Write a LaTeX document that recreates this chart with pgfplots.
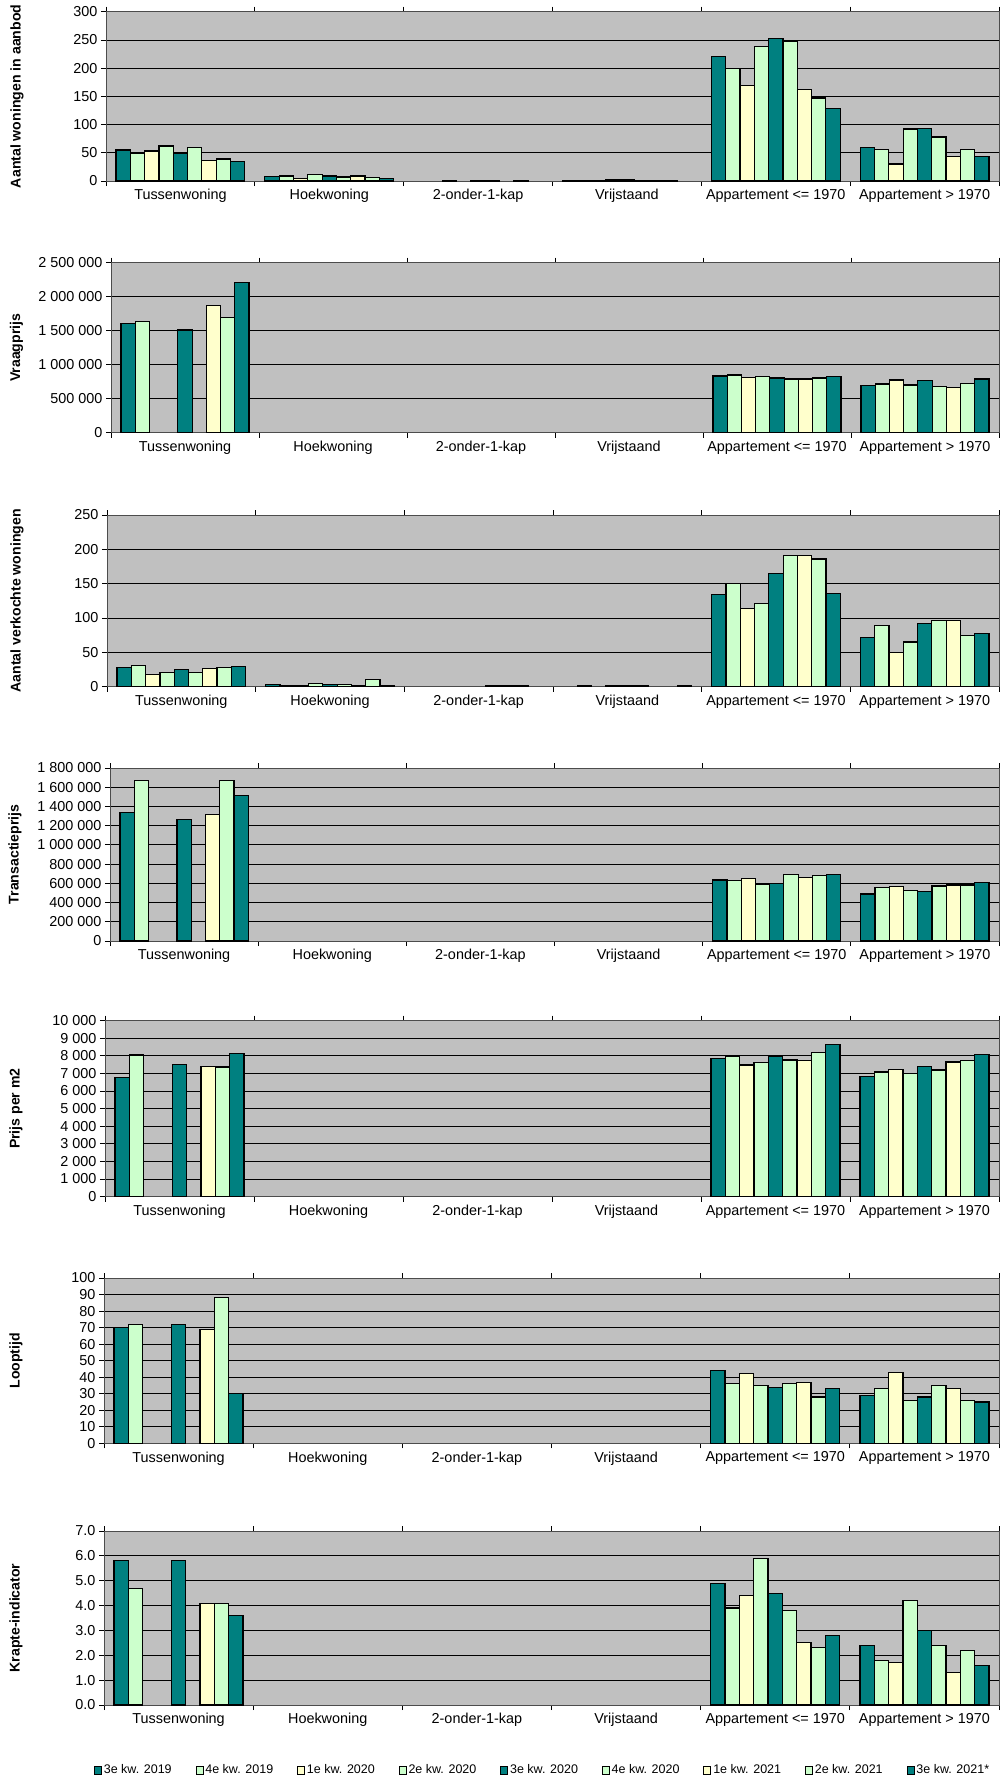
\documentclass[border=0pt]{standalone}
\usepackage{fontspec}
\setmainfont{Liberation Sans}
\usepackage{pgfplots}
\usepackage{pgfplotstable}
\pgfplotsset{compat=1.18}

\definecolor{kwteal}{HTML}{008080}
\definecolor{kwgreen}{HTML}{CCFFCC}
\definecolor{kwyellow}{HTML}{FFFFCC}
\definecolor{plotgray}{HTML}{C0C0C0}

% x = categorie (0 Tussenwoning ... 5 Appartement > 1970), s1..s9 = kwartalen
\pgfplotstableread{
x s1 s2 s3 s4 s5 s6 s7 s8 s9
0 55 49 53 62 49 59 36 39 35
1 8 9 5 11 9 7 9 6 5
2 nan nan 1 nan 1 1 nan 1 nan
3 1 1 1 2 2 1 1 1 nan
4 220 200 169 239 252 247 162 147 128
5 59 56 30 92 93 78 43 56 44
}\aanbod

\pgfplotstableread{
x s1 s2 s3 s4 s5 s6 s7 s8 s9
0 1610000 1640000 nan nan 1510000 nan 1870000 1690000 2210000
4 835000 848000 815000 830000 805000 790000 790000 805000 825000
5 697000 716000 775000 701000 765000 677000 662000 721000 790000
}\vraagprijs

\pgfplotstableread{
x s1 s2 s3 s4 s5 s6 s7 s8 s9
0 28 31 18 21 25 21 26 28 29
1 3 1 1 5 3 3 1 11 1
2 nan nan nan nan nan 1 1 1 nan
3 nan 1 nan 1 1 1 nan nan 1
4 134 150 114 121 165 191 191 186 136
5 72 89 50 65 92 96 96 75 78
}\verkocht

\pgfplotstableread{
x s1 s2 s3 s4 s5 s6 s7 s8 s9
0 1333000 1674000 nan nan 1264000 nan 1316000 1667000 1510000
4 635000 628000 650000 594000 601000 690000 660000 685000 695000
5 490000 559000 570000 528000 518000 573000 583000 583000 611000
}\transactie

\pgfplotstableread{
x s1 s2 s3 s4 s5 s6 s7 s8 s9
0 6760 8050 nan nan 7520 nan 7410 7370 8120
4 7860 7950 7480 7630 7950 7760 7750 8180 8640
5 6840 7080 7210 6990 7380 7200 7650 7750 8090
}\prijsmtwee

\pgfplotstableread{
x s1 s2 s3 s4 s5 s6 s7 s8 s9
0 70 72 nan nan 72 nan 69 88 30
4 44 36 42 35 34 36 37 28 33
5 29 33 43 26 28 35 33 26 25
}\looptijd

\pgfplotstableread{
x s1 s2 s3 s4 s5 s6 s7 s8 s9
0 5.8 4.7 nan nan 5.8 nan 4.1 4.1 3.6
4 4.9 3.9 4.4 5.9 4.5 3.8 2.5 2.3 2.8
5 2.4 1.8 1.7 4.2 3.0 2.4 1.3 2.2 1.6
}\krapte

\pgfplotscreateplotcyclelist{kwlist}{
  {fill=kwteal,draw=black},
  {fill=kwgreen,draw=black},
  {fill=kwyellow,draw=black},
  {fill=kwgreen,draw=black},
  {fill=kwteal,draw=black},
  {fill=kwgreen,draw=black},
  {fill=kwyellow,draw=black},
  {fill=kwgreen,draw=black},
  {fill=kwteal,draw=black}}

\pgfplotsset{
  kw/.style={
    scale only axis,
    anchor=north west,
    ybar=0pt,
    bar width=0.0961,
    xmin=-0.5, xmax=5.5,
    ymin=0,
    xtick={0,...,5},
    xticklabels={Tussenwoning,Hoekwoning,2-onder-1-kap,Vrijstaand,Appartement <= 1970,Appartement > 1970},
    minor xtick={-0.5,0.5,...,5.5},
    major x tick style={draw=none},
    minor x tick style={black,line width=0.8pt},
    ytick style={black,line width=0.8pt},
    tick align=outside,
    major tick length=5pt,
    minor tick length=5pt,
    ymajorgrids,
    major grid style={black,line width=0.8pt},
    axis line style={draw=black!70,line width=0.8pt},
    axis background/.style={fill=plotgray},
    cycle list name=kwlist,
    every axis plot/.append style={line width=1.2pt},
    scaled y ticks=false,
    /pgf/number format/fixed,
    /pgf/number format/precision=0,
    /pgf/number format/1000 sep={\ },
    /pgf/number format/assume math mode=true,
    tick label style={font=\fontsize{14.4}{17}\selectfont},
    every axis y label/.style={rotate=90,anchor=center,
      font=\bfseries\fontsize{14.1}{17}\selectfont},
  },
}

\newcommand{\kwbars}[1]{%
  \addplot table[x=x,y=s1]{#1};
  \addplot table[x=x,y=s2]{#1};
  \addplot table[x=x,y=s3]{#1};
  \addplot table[x=x,y=s4]{#1};
  \addplot table[x=x,y=s5]{#1};
  \addplot table[x=x,y=s6]{#1};
  \addplot table[x=x,y=s7]{#1};
  \addplot table[x=x,y=s8]{#1};
  \addplot table[x=x,y=s9]{#1};
}

\begin{document}
\begin{tikzpicture}
\useasboundingbox (0,0) rectangle (999pt,-1780pt);

\begin{axis}[kw, at={(106pt,-11.7pt)}, width=893pt, height=169.3pt,
  ymax=300, ytick={0,50,...,300},
  ylabel={Aantal woningen in aanbod},
  ylabel style={at={(axis description cs:-0.0997,0.5)}}]
  \kwbars{\aanbod}
\end{axis}

\begin{axis}[kw, at={(111pt,-262.7pt)}, width=888pt, height=170pt,
  ymax=2500000, ytick={0,500000,...,2500000},
  ylabel={Vraagprijs},
  ylabel style={at={(axis description cs:-0.1064,0.5)}}]
  \kwbars{\vraagprijs}
\end{axis}

\begin{axis}[kw, at={(107pt,-515pt)}, width=892pt, height=171.7pt,
  ymax=250, ytick={0,50,...,250},
  ylabel={Aantal verkochte woningen},
  ylabel style={at={(axis description cs:-0.1009,0.5)}}]
  \kwbars{\verkocht}
\end{axis}

\begin{axis}[kw, at={(110pt,-768pt)}, width=889pt, height=173pt,
  ymax=1800000, ytick={0,200000,...,1800000},
  ylabel={Transactieprijs},
  ylabel style={at={(axis description cs:-0.1069,0.5)}}]
  \kwbars{\transactie}
\end{axis}

\begin{axis}[kw, at={(105pt,-1020.7pt)}, width=894pt, height=175.8pt,
  ymax=10000, ytick={0,1000,...,10000},
  ylabel={Prijs per m2},
  ylabel style={at={(axis description cs:-0.0996,0.5)}}]
  \kwbars{\prijsmtwee}
\end{axis}

\begin{axis}[kw, at={(104pt,-1278pt)}, width=895pt, height=165.3pt,
  ymax=100, ytick={0,10,...,100},
  ylabel={Looptijd},
  ylabel style={at={(axis description cs:-0.0983,0.5)}}]
  \kwbars{\looptijd}
\end{axis}

\begin{axis}[kw, at={(104pt,-1531pt)}, width=895pt, height=174pt,
  ymax=7, ytick={0,1,...,7},
  yticklabel style={/pgf/number format/precision=1,/pgf/number format/fixed zerofill},
  ylabel={Krapte-indicator},
  ylabel style={at={(axis description cs:-0.0983,0.5)}},
  legend columns=9,
  legend cell align=left,
  legend image code/.code={\draw[#1,line width=0.8pt] (0pt,-4pt) rectangle (7pt,4pt);},
  legend style={at={(rel axis cs:-0.01117,-0.3736)}, anchor=west,
    draw=none, fill=none, inner sep=0pt, outer sep=0pt,
    font=\fontsize{12.5}{14}\selectfont,
    nodes={inner sep=0pt},
    /tikz/every odd column/.append style={column sep=2pt},
    /tikz/every even column/.append style={column sep=23.9pt}}]
  \kwbars{\krapte}
  \legend{3e kw. 2019,4e kw. 2019,1e kw. 2020,2e kw. 2020,3e kw. 2020,4e kw. 2020,1e kw. 2021,2e kw. 2021,3e kw. 2021*}
\end{axis}
\end{tikzpicture}
\end{document}
